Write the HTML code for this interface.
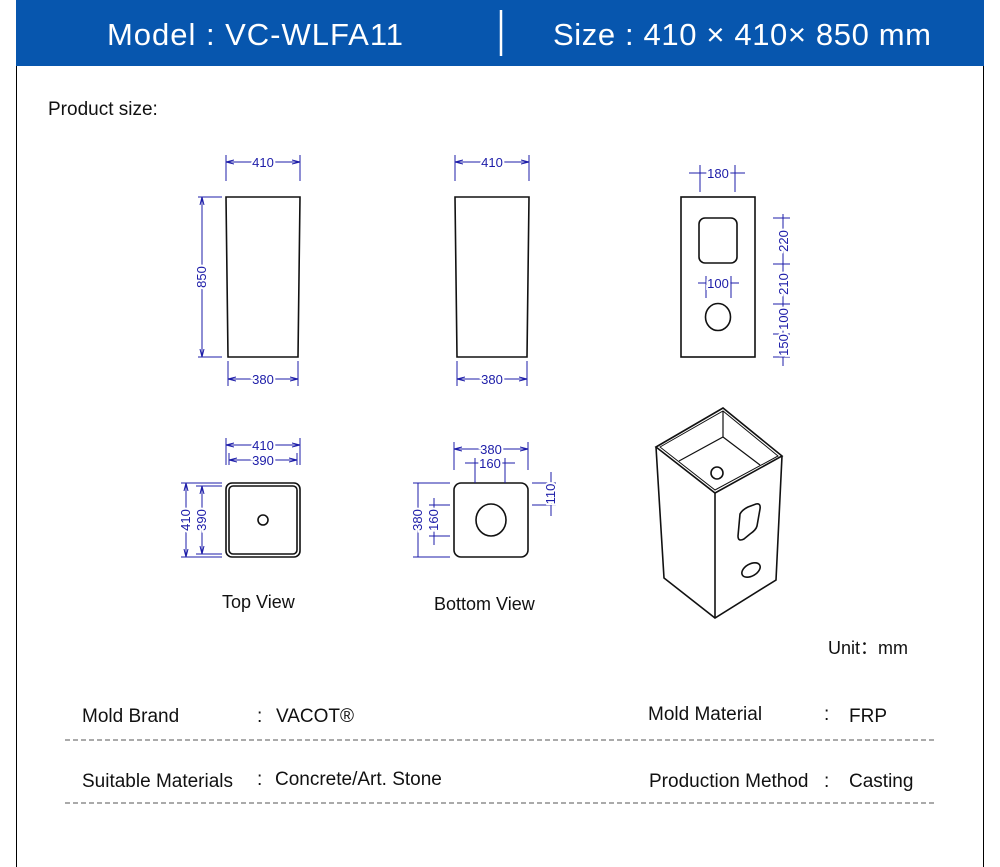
<!DOCTYPE html>
<html><head><meta charset="utf-8"><style>
body{margin:0;width:1000px;height:867px;background:#fff;overflow:hidden;font-family:"Liberation Sans",sans-serif;}
</style></head><body>
<svg width="1000" height="867" xmlns="http://www.w3.org/2000/svg" style="position:absolute;left:0;top:0">
<defs>
<marker id="a" markerWidth="8" markerHeight="6" refX="8" refY="3" orient="auto-start-reverse" markerUnits="userSpaceOnUse"><path d="M0,1 L8,3 L0,5" fill="none" stroke="#1c1ca8" stroke-width="1"/></marker>
</defs>
<rect x="16" y="0" width="968" height="66" fill="#0756ae"/>
<line x1="16.5" y1="66" x2="16.5" y2="867" stroke="#000" stroke-width="1"/>
<line x1="983.5" y1="66" x2="983.5" y2="867" stroke="#000" stroke-width="1"/>
<text x="107" y="45" fill="#fff" font-size="31" textLength="296" font-family="Liberation Sans,sans-serif">Model : VC-WLFA11</text>
<line x1="501" y1="10" x2="501" y2="56" stroke="#fff" stroke-width="2.5"/>
<text x="553" y="45" fill="#fff" font-size="31" textLength="378" font-family="Liberation Sans,sans-serif">Size : 410 × 410× 850 mm</text>
<text x="48" y="115" font-size="19" fill="#111">Product size:</text>

<g fill="none" stroke="#111" stroke-width="1.6">
<polygon points="226,197 300,197 298,357 228,357"/>
<polygon points="455,197 529,197 527,357 457,357"/>
<rect x="681" y="197" width="74" height="160"/>
<rect x="699" y="218" width="38" height="45" rx="6"/>
<ellipse cx="718" cy="317" rx="12.5" ry="13.5"/>
<rect x="226" y="483" width="74" height="74" rx="6"/>
<rect x="229" y="486" width="68" height="68" rx="4"/>
<circle cx="263" cy="520" r="5"/>
<rect x="454" y="483" width="74" height="74" rx="7"/>
<ellipse cx="491" cy="520" rx="15" ry="16"/>
<polygon points="656,447 723,408 782,456 715,493"/>
<polyline points="656,447 664,578 715,618 776,580 782,456"/>
<line x1="715" y1="493" x2="715" y2="618"/>
<polygon points="660,447 723,411 778,456 715,490" stroke-width="1"/>
<polyline points="679,461 723,437 760,465" stroke-width="1.2"/>
<line x1="723" y1="411" x2="723" y2="437" stroke-width="1.2"/>
<ellipse cx="717" cy="473" rx="6" ry="6"/>
<path d="M740,514 Q742,510 748,507 L756,504 Q761,503 760,509 L757,526 Q756,530 750,534 L744,539 Q738,542 738,536 Z"/>
<ellipse cx="751" cy="570" rx="10" ry="6" transform="rotate(-30 751 570)"/>
</g>

<g stroke="#1c1ca8" stroke-width="1" fill="none">
<path d="M226,155V181M300,155V181M228,361V386M298,361V386M198,197H222M198,357H222"/>
<line x1="226" y1="162" x2="300" y2="162" marker-start="url(#a)" marker-end="url(#a)"/>
<line x1="228" y1="379" x2="298" y2="379" marker-start="url(#a)" marker-end="url(#a)"/>
<line x1="202" y1="197" x2="202" y2="357" marker-start="url(#a)" marker-end="url(#a)"/>
<path d="M455,155V181M529,155V181M457,361V386M527,361V386"/>
<line x1="455" y1="162" x2="529" y2="162" marker-start="url(#a)" marker-end="url(#a)"/>
<line x1="457" y1="379" x2="527" y2="379" marker-start="url(#a)" marker-end="url(#a)"/>
<path d="M700,165V192M735,165V192M689,173H745M706,276V298M731,276V298M698,283H739"/>
<path d="M773,218H790M773,264H790M773,304H790M773,334H790M773,357H790M783,214V366"/>
<path d="M226,438V465M300,438V465M229,453V465M297,453V465M181,483H222M181,557H222M196,486H222M196,554H222"/>
<line x1="226" y1="445" x2="300" y2="445" marker-start="url(#a)" marker-end="url(#a)"/>
<line x1="229" y1="460" x2="297" y2="460" marker-start="url(#a)" marker-end="url(#a)"/>
<line x1="186" y1="483" x2="186" y2="557" marker-start="url(#a)" marker-end="url(#a)"/>
<line x1="202" y1="486" x2="202" y2="554" marker-start="url(#a)" marker-end="url(#a)"/>
<path d="M454,442V470M528,442V470M475,458V483M505,458V483M465,463H515"/>
<line x1="454" y1="449" x2="528" y2="449" marker-start="url(#a)" marker-end="url(#a)"/>
<path d="M413,483H450M413,557H450M429,505H450M429,536H450M434,498V545M418,483V557"/>
<path d="M532,483H556M532,505H556M551,472V516"/>
</g>
<g fill="#1c1ca8" font-size="13" font-family="Liberation Sans,sans-serif" text-anchor="middle" stroke="#fff" stroke-width="4" style="paint-order:stroke">
<text x="263" y="167">410</text>
<text x="263" y="384">380</text>
<text x="492" y="167">410</text>
<text x="492" y="384">380</text>
<text x="718" y="178">180</text>
<text x="718" y="288">100</text>
<text x="263" y="450">410</text>
<text x="263" y="465">390</text>
<text x="491" y="454">380</text>
<text x="490" y="468">160</text>
<text transform="translate(206,277) rotate(-90)">850</text>
<text transform="translate(190,520) rotate(-90)">410</text>
<text transform="translate(206,520) rotate(-90)">390</text>
<text transform="translate(422,520) rotate(-90)">380</text>
<text transform="translate(438,520) rotate(-90)">160</text>
<text transform="translate(555,494) rotate(-90)">110</text>
<text transform="translate(788,241) rotate(-90)">220</text>
<text transform="translate(788,284) rotate(-90)">210</text>
<text transform="translate(788,319) rotate(-90)">100</text>
<text transform="translate(788,345) rotate(-90)">150</text>
</g>
<text x="222" y="608" font-size="18" fill="#111">Top View</text>
<text x="434" y="610" font-size="18" fill="#111">Bottom View</text>
<text x="828" y="654" font-size="18" fill="#111">Unit：mm</text>

<g font-size="19" fill="#111">
<text x="82" y="722">Mold Brand</text>
<text x="257" y="722">:</text><text x="276" y="722">VACOT®</text>
<text x="648" y="720">Mold Material</text>
<text x="824" y="720">:</text><text x="849" y="722">FRP</text>
<text x="82" y="787">Suitable Materials</text>
<text x="257" y="785">:</text><text x="275" y="785">Concrete/Art. Stone</text>
<text x="649" y="787">Production Method</text>
<text x="824" y="787">:</text><text x="849" y="787">Casting</text>
</g>
<line x1="65" y1="740" x2="934" y2="740" stroke="#555" stroke-dasharray="5,3" stroke-width="1"/>
<line x1="65" y1="803" x2="934" y2="803" stroke="#555" stroke-dasharray="5,3" stroke-width="1"/>
</svg>
</body></html>
